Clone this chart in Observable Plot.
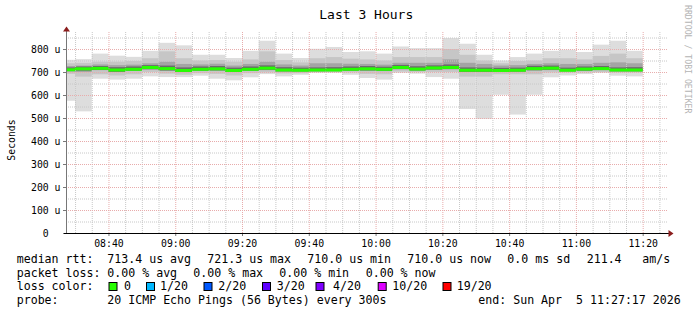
<!DOCTYPE html>
<html><head><meta charset="utf-8">
<script src="https://cdn.jsdelivr.net/npm/d3@7"></script>
<script src="https://cdn.jsdelivr.net/npm/@observablehq/plot@0.6"></script>
<style>
html,body{margin:0;padding:0;background:#fff;}
#wrap{position:relative;width:697px;height:315px;overflow:hidden;background:#fff;}
#wrap svg{position:absolute;left:0;top:0;}
</style></head>
<body><div id="wrap"></div>
<script>
// ---- data (µs) : each 5-minute bin labelled by its end time ----
const binEnd = ["08:30","08:35","08:40","08:45","08:50","08:55","09:00","09:05","09:10","09:15","09:20","09:25","09:30","09:35","09:40","09:45","09:50","09:55","10:00","10:05","10:10","10:15","10:20","10:25","10:30","10:35","10:40","10:45","10:50","10:55","11:00","11:05","11:10","11:15","11:20"];
const maxRtt = [753,756,780,771,766,792,827,816,775,775,761,792,836,780,761,801,809,787,790,780,811,804,804,848,823,775,750,765,780,792,797,787,819,836,792];
const hi2    = [738,740,745,745,748,760,790,760,750,752,745,755,790,752,742,760,765,758,755,750,765,765,765,800,775,750,738,748,750,760,760,755,770,780,760];
const hi3    = [726,728,733,730,732,738,745,735,733,736,728,735,745,733,728,738,738,736,735,732,740,740,740,755,740,735,728,730,735,738,735,735,740,742,738];
const hi4    = [720,724,726,721,724,730,728,720,724,726,719,724,729,721,719,720,721,724,726,723,731,725,729,733,720,719,718,719,727,728,719,724,726,720,721];
const median = [712,716,718,711,714,722,717,709,714,716,709,714,719,711,710,711,711,714,716,714,722,715,720,722,710,710,709,710,717,719,710,715,717,711,711];
const lo4    = [704,706,709,701,706,712,707,700,706,707,701,706,710,703,703,704,704,706,707,705,713,707,711,713,701,701,702,702,708,710,703,706,709,703,703];
const lo3    = [703,700,708,700,705,712,705,700,705,706,700,705,708,702,702,703,704,706,705,704,712,706,710,712,700,700,702,702,706,708,704,705,708,704,704];
const lo2    = [692,680,690,685,690,700,693,688,695,692,685,695,698,694,695,700,700,698,692,690,702,700,700,700,680,680,690,690,690,698,698,698,700,698,698];
const minRtt = [575,529,671,667,671,681,678,678,684,671,664,677,691,681,688,696,696,688,674,667,696,693,678,671,539,496,601,515,601,677,685,691,696,684,681];

const yMajor = [100,200,300,400,500,600,700,800];
const yMinor = [50,150,250,350,450,550,650,750,850];

const lossLevels = ["0","1/20","2/20","3/20","4/20","10/20","19/20"];
const lossColors = ["#26ff00","#00b8ff","#0059ff","#5e00ff","#7e00ff","#dd00ff","#ff0000"];

const day = [2026,3,5];
const t = s => { const [h,m] = s.split(":").map(Number); return new Date(Date.UTC(day[0],day[1],day[2],h,m)); };
const start = new Date(Date.UTC(2026,3,5,8,27,17));
const end   = new Date(Date.UTC(2026,3,5,11,27,17));

const rows = binEnd.map((s,i) => ({
  x2: t(s), x1: new Date(t(s) - 300000),
  max: maxRtt[i], hi2: hi2[i], hi3: hi3[i], hi4: hi4[i], med: median[i], lo4: lo4[i], lo3: lo3[i], lo2: lo2[i], min: minRtt[i]
}));

const xMajor = d3.utcMinute.every(20).range(start, end);
const xMinor = d3.utcMinute.every(5).range(start, end).filter(d => d.getUTCMinutes() % 20 !== 0);

const frame = (index, scales, values, dim) => {
  const g = d3.create("svg:g");
  const x0 = dim.marginLeft + 0.5, y0 = dim.height - dim.marginBottom + 0.5;
  const xr = dim.width - dim.marginRight;
  g.append("line").attr("x1", x0).attr("x2", x0).attr("y1", y0).attr("y2", 31).attr("stroke", "#777");
  g.append("path").attr("d", `M${x0-3.5},31.5L${x0+3.5},31.5L${x0},26.5Z`).attr("fill", "#8b1d1d");
  g.append("line").attr("x1", dim.marginLeft - 2).attr("x2", xr + 2).attr("y1", y0).attr("y2", y0).attr("stroke", "#000");
  g.append("path").attr("d", `M${xr+1.5},${y0-3.5}L${xr+1.5},${y0+3.5}L${xr+6.5},${y0}Z`).attr("fill", "#8b1d1d");
  return g.node();
};

const chart = Plot.plot({
  width: 697, height: 315,
  marginLeft: 66, marginRight: 30, marginTop: 32, marginBottom: 82,
  style: {background: "transparent", fontFamily: "DejaVu Sans Mono", fontSize: "9.8px", color: "#000"},
  x: {type: "utc", domain: [start, end]},
  y: {domain: [0, 874]},
  marks: [
    Plot.rect(rows, {x1: "x1", x2: "x2", y1: "min", y2: "max", fill: "#dddddd", clip: true}),
    Plot.rect(rows, {x1: "x1", x2: "x2", y1: "lo2", y2: "hi2", fill: "#c6c6c6", clip: true}),
    Plot.rect(rows, {x1: "x1", x2: "x2", y1: "lo3", y2: "hi3", fill: "#a4a4a4", clip: true}),
    Plot.rect(rows, {x1: "x1", x2: "x2", y1: "lo4", y2: "hi4", fill: "#6a6a6a", clip: true}),
    Plot.ruleX(xMinor, {stroke: "#c8c8c8", strokeDasharray: "1,1"}),
    Plot.ruleY(yMinor, {stroke: "#c8c8c8", strokeDasharray: "1,1"}),
    Plot.ruleX(xMajor, {stroke: "#e8acac", strokeDasharray: "1,1"}),
    Plot.ruleY(yMajor, {stroke: "#e8acac", strokeDasharray: "1,1"}),
    Plot.ruleY(rows, {y: "med", x1: "x1", x2: "x2", stroke: lossColors[0], strokeWidth: 3, clip: true}),
    Plot.axisY([0, ...yMajor], {tickSize: 3, tickPadding: 3, label: null, tickFormat: d => d ? `${d} u` : "0\u00a0\u00a0", stroke: "#777"}),
    Plot.axisX(xMajor, {tickSize: 3, tickPadding: 4, label: null, tickFormat: d3.utcFormat("%H:%M"), stroke: "#777"}),
    frame
  ]
});
const wrap = document.getElementById("wrap");
wrap.appendChild(chart);

// ---- texts ----
const ov = d3.select(wrap).append("svg").attr("width", 697).attr("height", 315)
  .style("font-family", "DejaVu Sans Mono").style("pointer-events", "none");
const txt = (x, y, s, size, extra) => {
  const e = ov.append("text").attr("x", x).attr("y", y).attr("font-size", size).attr("fill", "#000")
    .attr("xml:space", "preserve").style("white-space", "pre").text(s);
  if (extra) extra(e);
  return e;
};
txt(319.3, 18.5, "Last 3 Hours", 13);
txt(0, 0, "Seconds", 9.8, e => e.attr("text-anchor", "middle").attr("transform", "translate(14.5,140) rotate(-90)"));
txt(0, 0, "RRDTOOL / TOBI OETIKER", 8.2, e => e.attr("fill", "#b4b4b4").attr("transform", "translate(684.5,5) rotate(90)"));

const L = 11.6;
const line1 = [[16.7,"median rtt:"],[107.3,"713.4 us avg"],[207.3,"721.3 us max"],[307.3,"710.0 us min"],[407.3,"710.0 us now"],[507.3,"0.0 ms sd"],[586.7,"211.4"],[642.3,"am/s"]];
const line2 = [[16.7,"packet loss:"],[107.3,"0.00 % avg"],[193.3,"0.00 % max"],[279.3,"0.00 % min"],[365.7,"0.00 % now"]];
const line4 = [[16.7,"probe:"],[107.3,"20 ICMP Echo Pings (56 Bytes) every 300s"],[478.3,"end: Sun Apr  5 11:27:17 2026"]];
line1.forEach(([x,s]) => txt(x, 263, s, L));
line2.forEach(([x,s]) => txt(x, 276.7, s, L));
txt(16.7, 290.3, "loss color:", L);
const boxX = [108.5, 146, 203.5, 262, 315.5, 377.7, 442.5];
const labX = [124, 160, 218.3, 276.7, 333, 392.3, 456.7];
lossLevels.forEach((s, i) => {
  ov.append("rect").attr("x", boxX[i] + 0.5).attr("y", 282.5).attr("width", 8).attr("height", 8)
    .attr("fill", lossColors[i]).attr("stroke", "#000").attr("stroke-width", 1);
  txt(labX[i], 290.3, s, L);
});
line4.forEach(([x,s]) => txt(x, 304, s, L));
</script></body></html>
